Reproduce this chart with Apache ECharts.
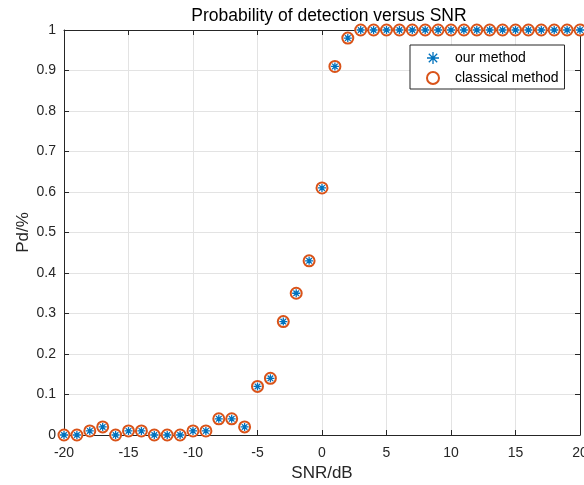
<!DOCTYPE html>
<html>
<head>
<meta charset="utf-8">
<script src="https://cdn.jsdelivr.net/npm/echarts@6/dist/echarts.min.js"></script>
<style>html,body{margin:0;padding:0;background:#fff;overflow:hidden}#c{width:584px;height:485px}</style>
</head>
<body>
<div id="c"></div>
<script>
var snr = [-20,-19,-18,-17,-16,-15,-14,-13,-12,-11,-10,-9,-8,-7,-6,-5,-4,-3,-2,-1,0,1,2,3,4,5,6,7,8,9,10,11,12,13,14,15,16,17,18,19,20];
var ourMethod = [0,0,0.01,0.02,0,0.01,0.01,0,0,0,0.01,0.01,0.04,0.04,0.02,0.12,0.14,0.28,0.35,0.43,0.61,0.91,0.98,1,1,1,1,1,1,1,1,1,1,1,1,1,1,1,1,1,1];
var classicalMethod = [0,0,0.01,0.02,0,0.01,0.01,0,0,0,0.01,0.01,0.04,0.04,0.02,0.12,0.14,0.28,0.35,0.43,0.61,0.91,0.98,1,1,1,1,1,1,1,1,1,1,1,1,1,1,1,1,1,1];
var xTicks = [-20,-15,-10,-5,0,5,10,15,20];

var star = 'path://M0,-10L0,10M-10,0L10,0M-7,-7L7,7M-7,7L7,-7';
var axisColor = '#262626';
var font = 'Liberation Sans, Arial, sans-serif';

function pairs(v){ return snr.map(function(x,i){ return [x, v[i]]; }); }

var chart = echarts.init(document.getElementById('c'));
chart.setOption({
  animation: false,
  title: { text: 'Probability of detection versus SNR', left: 324, top: 2, textAlign: 'center',
    textStyle: { fontFamily: font, fontSize: 17.5, fontWeight: 'normal', color: '#000' } },
  grid: { left: 64, right: 4, top: 30, bottom: 50, outerBoundsMode: 'none', containLabel: false },
  legend: {
    orient: 'vertical', left: 410, top: 45, padding: [6, 6, 4, 16],
    backgroundColor: '#fff', borderColor: axisColor, borderWidth: 1,
    itemGap: 6, itemWidth: 34, itemHeight: 12,
    textStyle: { fontFamily: font, fontSize: 14, color: '#000' },
    data: [
      { name: 'our method', icon: star, itemStyle: { color: '#0072BD', borderColor: '#0072BD', borderWidth: 1.3 } },
      { name: 'classical method', icon: 'emptyCircle', itemStyle: { color: '#D95319', borderColor: '#D95319', borderWidth: 1.3 } }
    ]
  },
  xAxis: [{
    type: 'value', min: -20, max: 20, interval: 5, position: 'bottom',
    axisLine: { show: true, onZero: false, lineStyle: { color: axisColor, width: 1 } },
    axisTick: { show: true, inside: true, length: 5, lineStyle: { color: axisColor } },
    axisLabel: { color: axisColor, fontFamily: font, fontSize: 14, margin: 11,
      formatter: function(v){ return xTicks.indexOf(v) >= 0 ? String(v) : ''; } },
    splitLine: { show: true, lineStyle: { color: '#e3e3e3', width: 1 } },
    name: 'SNR/dB', nameLocation: 'middle', nameGap: 28,
    nameTextStyle: { fontFamily: font, fontSize: 17, color: axisColor }
  }, {
    type: 'value', min: -20, max: 20, interval: 5, position: 'top',
    axisLine: { show: true, onZero: false, lineStyle: { color: axisColor, width: 1 } },
    axisTick: { show: true, inside: true, length: 5, lineStyle: { color: axisColor } },
    axisLabel: { show: false }, splitLine: { show: false }
  }],
  yAxis: [{
    type: 'value', min: 0, max: 1, interval: 0.1, position: 'left',
    axisLine: { show: true, onZero: false, lineStyle: { color: axisColor, width: 1 } },
    axisTick: { show: true, inside: true, length: 5, lineStyle: { color: axisColor } },
    axisLabel: { color: axisColor, fontFamily: font, fontSize: 14, margin: 8,
      formatter: function(v){ return String(Math.round(v*10)/10); } },
    splitLine: { show: true, lineStyle: { color: '#e3e3e3', width: 1 } },
    name: 'Pd/%', nameLocation: 'middle', nameGap: 32, nameRotate: 90, nameMoveOverlap: false,
    nameTextStyle: { fontFamily: font, fontSize: 17, color: axisColor }
  }, {
    type: 'value', min: 0, max: 1, interval: 0.1, position: 'right',
    axisLine: { show: true, onZero: false, lineStyle: { color: axisColor, width: 1 } },
    axisTick: { show: true, inside: true, length: 5, lineStyle: { color: axisColor } },
    axisLabel: { show: false }, splitLine: { show: false }
  }],
  series: [{
    name: 'classical method', type: 'scatter', data: pairs(classicalMethod),
    symbol: 'emptyCircle', symbolSize: 11, clip: false, z: 2,
    itemStyle: { color: '#D95319', borderColor: '#D95319', borderWidth: 1.3, opacity: 1 }
  }, {
    name: 'our method', type: 'scatter', data: pairs(ourMethod),
    symbol: star, symbolSize: 8, clip: false, z: 3,
    itemStyle: { color: '#0072BD', borderColor: '#0072BD', borderWidth: 1.3, opacity: 1 }
  }]
});
</script>
</body>
</html>
